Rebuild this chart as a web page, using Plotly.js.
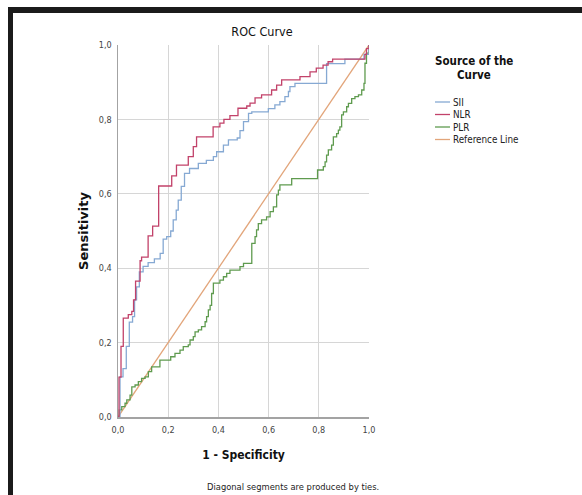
<!DOCTYPE html>
<html>
<head>
<meta charset="utf-8">
<script src="https://cdn.plot.ly/plotly-3.0.1.min.js"></script>
<style>
  html, body { margin: 0; padding: 0; background: #ffffff; }
  #chart { width: 582px; height: 495px; }
</style>
</head>
<body>
<div id="chart"></div>
<script>
// ---- Data ----
const seriesNames = ["SII", "NLR", "PLR", "Reference Line"];
const seriesColors = ["#86a9d3", "#c2426a", "#5f9b4f", "#e2a57a"];

const tickValues = [0, 0.2, 0.4, 0.6, 0.8, 1.0];
const tickLabels = ["0,0", "0,2", "0,4", "0,6", "0,8", "1,0"];

// SII: 1 - specificity, sensitivity (step corners)
const siiFpr = [0, 0.008, 0.02, 0.033, 0.045, 0.058, 0.066, 0.074, 0.085, 0.1, 0.12, 0.145, 0.168, 0.18, 0.194, 0.21, 0.22, 0.232, 0.24, 0.252, 0.265, 0.285, 0.32, 0.352, 0.38, 0.393, 0.42, 0.44, 0.475, 0.486, 0.5, 0.52, 0.533, 0.599, 0.625, 0.645, 0.665, 0.679, 0.685, 0.705, 0.831, 0.904, 0.98, 1.0];
const siiTpr = [0, 0.108, 0.13, 0.19, 0.255, 0.27, 0.315, 0.35, 0.39, 0.405, 0.415, 0.425, 0.44, 0.478, 0.485, 0.5, 0.53, 0.556, 0.583, 0.62, 0.655, 0.668, 0.682, 0.69, 0.70, 0.713, 0.731, 0.745, 0.75, 0.77, 0.794, 0.816, 0.82, 0.829, 0.839, 0.848, 0.861, 0.875, 0.888, 0.897, 0.95, 0.962, 0.975, 1.0];

// NLR
const nlrFpr = [0, 0.004, 0.012, 0.021, 0.041, 0.055, 0.062, 0.07, 0.088, 0.094, 0.12, 0.138, 0.162, 0.214, 0.233, 0.28, 0.30, 0.313, 0.379, 0.406, 0.422, 0.446, 0.478, 0.513, 0.526, 0.546, 0.572, 0.612, 0.632, 0.652, 0.725, 0.765, 0.79, 0.817, 0.837, 0.855, 0.984, 0.99, 1.0];
const nlrTpr = [0, 0.107, 0.19, 0.266, 0.275, 0.284, 0.315, 0.365, 0.42, 0.43, 0.487, 0.513, 0.621, 0.648, 0.677, 0.70, 0.727, 0.753, 0.78, 0.79, 0.80, 0.81, 0.83, 0.836, 0.844, 0.858, 0.866, 0.879, 0.892, 0.906, 0.915, 0.928, 0.938, 0.946, 0.955, 0.962, 0.975, 0.99, 1.0];

// PLR
const plrFpr = [0, 0.005, 0.015, 0.028, 0.035, 0.048, 0.055, 0.068, 0.081, 0.094, 0.108, 0.121, 0.134, 0.167, 0.21, 0.227, 0.247, 0.26, 0.28, 0.287, 0.30, 0.307, 0.32, 0.333, 0.347, 0.353, 0.36, 0.367, 0.373, 0.38, 0.406, 0.42, 0.433, 0.446, 0.486, 0.5, 0.533, 0.546, 0.552, 0.559, 0.572, 0.592, 0.606, 0.619, 0.632, 0.639, 0.645, 0.692, 0.795, 0.818, 0.825, 0.831, 0.838, 0.851, 0.858, 0.871, 0.878, 0.884, 0.891, 0.898, 0.911, 0.918, 0.931, 0.944, 0.958, 0.971, 0.98, 0.984, 0.99, 1.0];
const plrTpr = [0, 0.019, 0.028, 0.037, 0.046, 0.059, 0.081, 0.086, 0.095, 0.104, 0.108, 0.122, 0.135, 0.153, 0.162, 0.171, 0.18, 0.189, 0.194, 0.207, 0.216, 0.229, 0.234, 0.243, 0.256, 0.27, 0.288, 0.30, 0.332, 0.36, 0.368, 0.377, 0.386, 0.395, 0.404, 0.413, 0.467, 0.485, 0.503, 0.52, 0.53, 0.538, 0.552, 0.565, 0.597, 0.61, 0.624, 0.641, 0.664, 0.673, 0.686, 0.704, 0.718, 0.731, 0.753, 0.762, 0.771, 0.78, 0.812, 0.82, 0.834, 0.843, 0.856, 0.861, 0.866, 0.879, 0.897, 0.951, 0.978, 1.0];

// Reference diagonal
const refFpr = [0, 1];
const refTpr = [0, 1];

// ---- Build chart ----
const narrow = "Liberation Sans Narrow, DejaVu Sans Condensed, Arial Narrow, sans-serif";
const xs = [siiFpr, nlrFpr, plrFpr, refFpr];
const ys = [siiTpr, nlrTpr, plrTpr, refTpr];

// draw order: reference, PLR, SII, NLR
const order = [3, 2, 0, 1];
const traces = order.map(i => ({
  type: "scatter",
  mode: "lines",
  name: seriesNames[i],
  x: xs[i],
  y: ys[i],
  line: { color: seriesColors[i], width: 1.3, shape: i === 3 ? "linear" : "hv" },
  showlegend: false,
  hoverinfo: "skip"
}));

// plot-area geometry (px) used to convert legend/border positions to paper coords
const L = 118, R = 369, T = 45, B = 417;
const px = v => (v - L) / (R - L);
const py = v => (B - v) / (B - T);

const annotations = [
  { text: "<b>Source of the</b>", xref: "paper", yref: "paper", x: px(474), y: py(61),
    xanchor: "center", yanchor: "middle", showarrow: false, font: { family: narrow, size: 11.5, color: "#111" } },
  { text: "<b>Curve</b>", xref: "paper", yref: "paper", x: px(474), y: py(74.5),
    xanchor: "center", yanchor: "middle", showarrow: false, font: { family: narrow, size: 11.5, color: "#111" } },
  { text: "Diagonal segments are produced by ties.", xref: "paper", yref: "paper", x: px(292.5), y: py(486),
    xanchor: "center", yanchor: "middle", showarrow: false, font: { family: narrow, size: 9.3, color: "#222" } }
];
const shapes = [
  // black frame (top and left)
  { type: "rect", xref: "paper", yref: "paper", x0: px(8), x1: px(582), y0: py(13), y1: py(7),
    fillcolor: "#1b1b1b", line: { width: 0 }, layer: "above" },
  { type: "rect", xref: "paper", yref: "paper", x0: px(8), x1: px(13), y0: py(495), y1: py(7),
    fillcolor: "#1b1b1b", line: { width: 0 }, layer: "above" }
];
const legendY = [102, 114.5, 127, 139.5];
seriesNames.forEach((n, i) => {
  shapes.push({ type: "line", xref: "paper", yref: "paper", x0: px(435), x1: px(450), y0: py(legendY[i]), y1: py(legendY[i]),
    line: { color: seriesColors[i], width: 1.3 } });
  annotations.push({ text: n, xref: "paper", yref: "paper", x: px(451), y: py(legendY[i]),
    xanchor: "left", yanchor: "middle", showarrow: false, font: { family: narrow, size: 9.8, color: "#222" } });
});

const layout = {
  width: 582, height: 495,
  margin: { l: L, r: 582 - R, t: T, b: 495 - B, pad: 0 },
  paper_bgcolor: "#ffffff",
  plot_bgcolor: "#ffffff",
  showlegend: false,
  title: { text: "ROC Curve", xref: "paper", x: px(262), xanchor: "center",
           yref: "container", y: 1 - 31.5 / 495, yanchor: "middle",
           font: { family: narrow, size: 12.5, color: "#111" } },
  xaxis: {
    range: [0, 1], tickvals: tickValues, ticktext: tickLabels,
    showgrid: true, gridcolor: "#d6d6d6", gridwidth: 1,
    showline: true, linecolor: "#a3a3a3", linewidth: 1.5, mirror: false,
    zeroline: false, ticks: "", ticklabelstandoff: 4,
    tickfont: { family: narrow, size: 9, color: "#444" },
    title: { text: "<b>1 - Specificity</b>", standoff: 16, font: { family: narrow, size: 12, color: "#111" } },
    automargin: false, fixedrange: true
  },
  yaxis: {
    range: [0, 1], tickvals: tickValues, ticktext: tickLabels,
    showgrid: true, gridcolor: "#d6d6d6", gridwidth: 1,
    showline: true, linecolor: "#a3a3a3", linewidth: 1.5,
    zeroline: false, ticks: "", ticklabelstandoff: 3,
    tickfont: { family: narrow, size: 9, color: "#444" },
    title: { text: "<b>Sensitivity</b>", standoff: 7, font: { family: "DejaVu Sans, Verdana, sans-serif", size: 13, color: "#111" } },
    automargin: false, fixedrange: true
  },
  annotations: annotations,
  shapes: shapes
};

Plotly.newPlot("chart", traces, layout, { displayModeBar: false, staticPlot: true });
</script>
</body>
</html>
